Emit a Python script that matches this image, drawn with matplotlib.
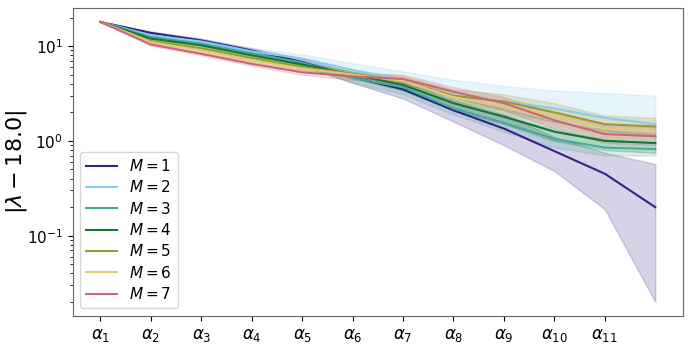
import numpy as np
import matplotlib
matplotlib.use("Agg")
import matplotlib.pyplot as plt

# step index (12 points, only 11 labelled)
steps = np.arange(12)
tick_labels = [r'$\alpha_{%d}$' % (i + 1) for i in range(11)]

series_names = [r'$M = %d$' % m for m in range(1, 8)]
colors = ['#332288', '#88CCEE', '#44AA99', '#117733', '#999933', '#DDCC77', '#CC6677']

m1_mean = [18, 13.8, 11.5, 9.0, 6.8, 4.7, 3.5, 2.1, 1.35, 0.78, 0.45, 0.2]
m1_lo = [18, 13.3, 11.0, 8.5, 6.2, 4.1, 2.8, 1.6, 0.9, 0.48, 0.19, 0.02]
m1_hi = [18, 14.3, 12.0, 9.5, 7.4, 5.3, 4.2, 2.7, 1.9, 1.1, 0.75, 0.57]

m2_mean = [18, 13.0, 11.2, 8.8, 7.4, 5.6, 4.4, 3.0, 2.6, 2.2, 1.75, 1.5]
m2_lo = [18, 12.5, 10.6, 8.2, 6.6, 4.6, 3.6, 2.3, 1.9, 1.6, 1.3, 1.1]
m2_hi = [18, 14.0, 12.0, 9.6, 8.2, 6.6, 5.4, 4.4, 3.8, 3.4, 3.2, 3.0]

m3_mean = [18, 12.5, 10.6, 8.4, 6.7, 4.6, 3.7, 2.2, 1.55, 1.05, 0.85, 0.82]
m3_lo = [18, 12.2, 10.2, 8.0, 6.2, 4.1, 3.1, 1.9, 1.25, 0.85, 0.7, 0.7]
m3_hi = [18, 12.9, 11.0, 8.8, 7.2, 5.1, 4.2, 2.6, 1.9, 1.3, 1.05, 0.95]

m4_mean = [18, 12.0, 10.2, 8.0, 6.4, 5.0, 3.9, 2.5, 1.8, 1.25, 1.0, 0.95]
m4_lo = [18, 11.7, 9.9, 7.7, 6.0, 4.6, 3.4, 2.1, 1.5, 1.0, 0.8, 0.75]
m4_hi = [18, 12.4, 10.6, 8.4, 6.8, 5.4, 4.4, 2.9, 2.2, 1.6, 1.3, 1.2]

m5_mean = [18, 11.3, 9.5, 7.5, 6.0, 5.1, 4.3, 3.0, 2.6, 2.0, 1.5, 1.42]
m5_lo = [18, 11.0, 9.2, 7.2, 5.7, 4.7, 3.8, 2.6, 2.1, 1.6, 1.2, 1.15]
m5_hi = [18, 11.7, 9.9, 7.9, 6.4, 5.5, 4.8, 3.5, 3.1, 2.5, 1.85, 1.75]

m6_mean = [18, 11.0, 9.0, 7.1, 5.8, 5.0, 4.3, 2.9, 2.3, 1.85, 1.35, 1.28]
m6_lo = [18, 10.7, 8.7, 6.8, 5.5, 4.6, 3.9, 2.5, 1.9, 1.5, 1.1, 1.05]
m6_hi = [18, 11.4, 9.4, 7.5, 6.2, 5.4, 4.8, 3.4, 2.8, 2.2, 1.7, 1.65]

m7_mean = [18, 10.4, 8.3, 6.5, 5.3, 4.8, 4.5, 3.3, 2.5, 1.65, 1.18, 1.12]
m7_lo = [18, 10.1, 8.0, 6.2, 5.0, 4.4, 4.0, 2.9, 2.1, 1.35, 0.95, 0.9]
m7_hi = [18, 10.8, 8.7, 6.9, 5.6, 5.2, 5.0, 3.7, 2.9, 2.0, 1.45, 1.4]

means = [m1_mean, m2_mean, m3_mean, m4_mean, m5_mean, m6_mean, m7_mean]
lows = [m1_lo, m2_lo, m3_lo, m4_lo, m5_lo, m6_lo, m7_lo]
highs = [m1_hi, m2_hi, m3_hi, m4_hi, m5_hi, m6_hi, m7_hi]

fig = plt.figure(figsize=(6.92, 3.46), dpi=100)
ax = fig.add_axes([0.105, 0.087, 0.882, 0.89])

for name, c, mu, lo, hi in zip(series_names, colors, means, lows, highs):
    ax.plot(steps, mu, color=c, lw=1.5, label=name)
    ax.fill_between(steps, lo, hi, color=c, alpha=0.2)

ax.set_yscale('log')
ax.set_xticks(range(11))
ax.set_xticklabels(tick_labels, fontsize=12)
ax.tick_params(axis='y', labelsize=11)
ax.set_ylabel(r'$|\lambda - 18.0|$', fontsize=16)
ax.yaxis.set_label_coords(-0.072, 0.5)

for sp in ax.spines.values():
    sp.set_color('0.4')

ax.legend(loc='lower left', fontsize=11, handlelength=2.0, labelspacing=0.35)

fig.savefig('out.png', dpi=100)
